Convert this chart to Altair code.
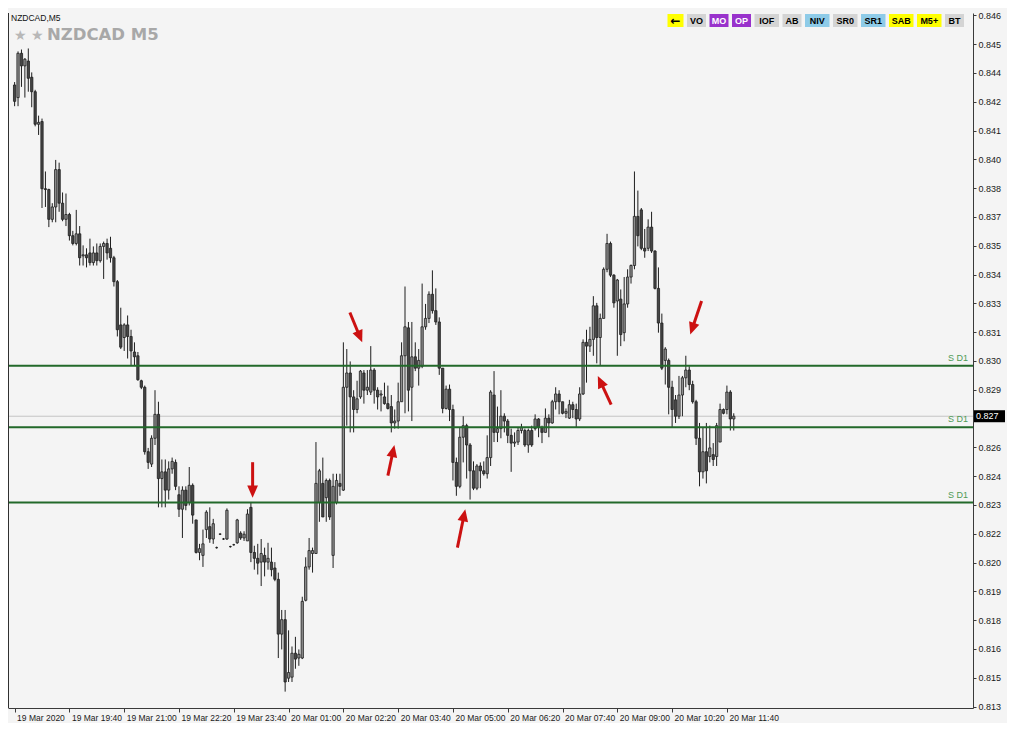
import math
import altair as alt
import pandas as pd

# ---------------- data ----------------
open_ = [0.84355,0.84295,0.84506,0.84446,0.84469,0.84392,0.84323,0.84168,0.84181,0.83861,
0.83857,0.83715,0.83774,0.83952,0.83792,0.83715,0.83738,0.83637,0.83600,0.83646,
0.83541,0.83546,0.83555,0.83509,0.83555,0.83518,0.83586,0.83600,0.83577,0.83532,
0.83418,0.83212,0.83152,0.83212,0.83157,0.83083,0.83065,0.82946,0.82915,0.82608,
0.82549,0.82672,0.82786,0.82480,0.82512,0.82425,0.82526,0.82557,0.82403,0.82334,
0.82425,0.82366,0.82448,0.82283,0.82128,0.82114,0.82237,0.82251,0.82192,0.82151,
0.82215,0.82192,0.82192,0.82156,0.82165,0.82174,0.82220,0.82197,0.82183,0.82343,
0.82128,0.82100,0.82082,0.82114,0.82082,0.82082,0.82054,0.82000,0.81739,0.81808,
0.81529,0.81534,0.81648,0.81625,0.81625,0.81900,0.82059,0.82123,0.82123,0.82366,
0.82457,0.82389,0.82471,0.82114,0.82366,0.82457,0.82425,0.82915,0.82983,0.82869,
0.82809,0.82869,0.82983,0.82901,0.82892,0.82997,0.82901,0.82878,0.82869,0.82837,
0.82823,0.82745,0.82754,0.82846,0.83065,0.83198,0.82915,0.83060,0.83006,0.83015,
0.83203,0.83243,0.83358,0.83280,0.83226,0.83006,0.82814,0.82906,0.82809,0.82557,
0.82443,0.82677,0.82732,0.82640,0.82517,0.82434,0.82540,0.82517,0.82503,0.82580,
0.82878,0.82700,0.82718,0.82777,0.82754,0.82686,0.82649,0.82654,0.82709,0.82709,
0.82640,0.82709,0.82718,0.82764,0.82723,0.82700,0.82768,0.82745,0.82846,0.82883,
0.82846,0.82791,0.82768,0.82832,0.82809,0.82764,0.82883,0.83129,0.83111,0.83143,
0.83303,0.83152,0.83243,0.83477,0.83600,0.83449,0.83326,0.83335,0.83175,0.83312,
0.83440,0.83495,0.83729,0.83760,0.83577,0.83577,0.83678,0.83564,0.83386,0.83221,
0.83043,0.83043,0.82915,0.82855,0.82777,0.82878,0.82960,0.82997,0.82928,0.82846,
0.82672,0.82512,0.82608,0.82585,0.82594,0.82585,0.82654,0.82809,0.82809,0.82892,
0.82764]
high = [0.84369,0.84515,0.84524,0.84483,0.84529,0.84415,0.84332,0.84209,0.84195,0.83943,
0.83861,0.83792,0.83998,0.83985,0.83843,0.83838,0.83746,0.83660,0.83760,0.83683,
0.83591,0.83577,0.83623,0.83586,0.83600,0.83600,0.83609,0.83623,0.83632,0.83541,
0.83426,0.83294,0.83220,0.83257,0.83189,0.83129,0.83083,0.82951,0.82923,0.82626,
0.82686,0.82901,0.82846,0.82571,0.82571,0.82562,0.82580,0.82571,0.82443,0.82443,
0.82443,0.82535,0.82457,0.82283,0.82169,0.82237,0.82329,0.82343,0.82288,0.82156,
0.82220,0.82197,0.82338,0.82160,0.82169,0.82288,0.82229,0.82229,0.82334,0.82366,
0.82160,0.82169,0.82192,0.82151,0.82174,0.82151,0.82082,0.82032,0.81854,0.81854,
0.81757,0.81680,0.81726,0.81666,0.81917,0.82105,0.82197,0.82151,0.82654,0.82526,
0.82580,0.82480,0.82480,0.82503,0.82503,0.82503,0.83129,0.83097,0.83038,0.82901,
0.82946,0.82997,0.82997,0.82997,0.83111,0.83006,0.82915,0.82901,0.82937,0.82923,
0.82878,0.82809,0.82937,0.83129,0.83395,0.83226,0.83226,0.83129,0.83097,0.83409,
0.83312,0.83372,0.83472,0.83386,0.83248,0.83006,0.82923,0.82928,0.82832,0.82580,
0.82723,0.82777,0.82741,0.82649,0.82562,0.82549,0.82557,0.82562,0.82686,0.82901,
0.82992,0.82823,0.82901,0.82791,0.82764,0.82718,0.82700,0.82723,0.82741,0.82718,
0.82718,0.82732,0.82786,0.82768,0.82732,0.82814,0.82786,0.82855,0.82915,0.82901,
0.82846,0.82814,0.82855,0.82846,0.82837,0.82915,0.83143,0.83189,0.83203,0.83349,
0.83317,0.83266,0.83486,0.83646,0.83609,0.83454,0.83431,0.83381,0.83440,0.83477,
0.83500,0.83943,0.83852,0.83769,0.83669,0.83715,0.83751,0.83568,0.83486,0.83266,
0.83106,0.83052,0.82946,0.82878,0.82969,0.82969,0.83065,0.83015,0.82946,0.82855,
0.82745,0.82723,0.82745,0.82732,0.82649,0.82745,0.82837,0.82814,0.82923,0.82901,
0.82791]
low = [0.84254,0.84254,0.84346,0.84295,0.84323,0.84249,0.84158,0.84117,0.83769,0.83774,
0.83678,0.83701,0.83701,0.83751,0.83706,0.83683,0.83614,0.83591,0.83591,0.83495,
0.83495,0.83486,0.83495,0.83495,0.83495,0.83509,0.83431,0.83523,0.83509,0.83395,
0.83157,0.83097,0.83088,0.83052,0.83020,0.83020,0.82946,0.82906,0.82594,0.82526,
0.82535,0.82640,0.82343,0.82343,0.82343,0.82380,0.82503,0.82425,0.82297,0.82197,
0.82329,0.82352,0.82265,0.82123,0.82091,0.82059,0.82197,0.82174,0.82169,0.82146,
0.82211,0.82188,0.82188,0.82151,0.82160,0.82169,0.82188,0.82183,0.82183,0.82082,
0.82046,0.82023,0.81968,0.82014,0.82046,0.82014,0.81991,0.81625,0.81666,0.81465,
0.81511,0.81511,0.81574,0.81588,0.81620,0.81895,0.82046,0.82032,0.82123,0.82274,
0.82297,0.82274,0.82283,0.82054,0.82357,0.82398,0.82421,0.82732,0.82700,0.82700,
0.82791,0.82860,0.82837,0.82878,0.82878,0.82837,0.82809,0.82800,0.82832,0.82809,
0.82700,0.82718,0.82718,0.82846,0.82791,0.82800,0.82754,0.82992,0.82923,0.83006,
0.83189,0.83221,0.83266,0.83212,0.82974,0.82791,0.82809,0.82754,0.82471,0.82398,
0.82434,0.82557,0.82480,0.82380,0.82425,0.82425,0.82434,0.82494,0.82480,0.82540,
0.82654,0.82654,0.82672,0.82700,0.82649,0.82512,0.82631,0.82640,0.82695,0.82631,
0.82603,0.82631,0.82709,0.82677,0.82649,0.82700,0.82677,0.82741,0.82809,0.82786,
0.82786,0.82768,0.82764,0.82768,0.82723,0.82754,0.82878,0.82937,0.83083,0.83065,
0.83029,0.83020,0.83243,0.83463,0.83440,0.83294,0.83065,0.83111,0.83134,0.83294,
0.83409,0.83477,0.83586,0.83568,0.83532,0.83564,0.83555,0.83381,0.83175,0.82997,
0.82928,0.82786,0.82723,0.82745,0.82764,0.82777,0.82915,0.82901,0.82837,0.82640,
0.82443,0.82480,0.82457,0.82557,0.82540,0.82540,0.82654,0.82786,0.82786,0.82709,
0.82709]
close = [0.84277,0.84506,0.84446,0.84478,0.84387,0.84323,0.84168,0.84177,0.83861,0.83857,
0.83715,0.83774,0.83952,0.83792,0.83715,0.83738,0.83637,0.83600,0.83646,0.83532,
0.83546,0.83532,0.83509,0.83555,0.83518,0.83586,0.83600,0.83555,0.83532,0.83418,
0.83189,0.83106,0.83212,0.83157,0.83088,0.83060,0.82951,0.82915,0.82608,0.82557,
0.82672,0.82786,0.82480,0.82512,0.82425,0.82526,0.82562,0.82443,0.82334,0.82425,
0.82352,0.82448,0.82306,0.82128,0.82146,0.82169,0.82320,0.82192,0.82265,0.82151,
0.82215,0.82192,0.82329,0.82156,0.82165,0.82283,0.82197,0.82215,0.82311,0.82128,
0.82100,0.82077,0.82123,0.82082,0.82100,0.82046,0.82000,0.81739,0.81808,0.81511,
0.81556,0.81648,0.81620,0.81643,0.81895,0.82059,0.82137,0.82137,0.82457,0.82517,
0.82297,0.82471,0.82297,0.82443,0.82471,0.82443,0.82915,0.82983,0.82869,0.82809,
0.82860,0.82992,0.82901,0.82915,0.82997,0.82901,0.82869,0.82883,0.82837,0.82814,
0.82745,0.82754,0.82846,0.83065,0.83203,0.82901,0.83060,0.83006,0.83043,0.83203,
0.83243,0.83358,0.83280,0.83226,0.83006,0.82814,0.82906,0.82809,0.82557,0.82443,
0.82677,0.82732,0.82640,0.82517,0.82434,0.82540,0.82517,0.82503,0.82580,0.82892,
0.82700,0.82718,0.82777,0.82754,0.82686,0.82649,0.82654,0.82709,0.82723,0.82640,
0.82709,0.82640,0.82764,0.82723,0.82700,0.82768,0.82745,0.82846,0.82883,0.82846,
0.82791,0.82800,0.82832,0.82809,0.82764,0.82883,0.83129,0.83111,0.83143,0.83303,
0.83152,0.83243,0.83477,0.83600,0.83449,0.83317,0.83426,0.83166,0.83312,0.83440,
0.83495,0.83729,0.83637,0.83577,0.83564,0.83678,0.83564,0.83386,0.83221,0.83006,
0.83097,0.82915,0.82809,0.82777,0.82878,0.82960,0.82997,0.82928,0.82846,0.82672,
0.82512,0.82608,0.82517,0.82626,0.82571,0.82732,0.82809,0.82791,0.82892,0.82764,
0.82777]

time_tick_bars = [0, 16, 32, 48, 64, 80, 96, 112, 128, 144, 160, 176, 192, 208]
time_tick_labels = ["19 Mar 2020", "19 Mar 19:40", "19 Mar 21:00", "19 Mar 22:20",
                    "19 Mar 23:40", "20 Mar 01:00", "20 Mar 02:20", "20 Mar 03:40",
                    "20 Mar 05:00", "20 Mar 06:20", "20 Mar 07:40", "20 Mar 09:00",
                    "20 Mar 10:20", "20 Mar 11:40"]
price_ticks = [0.84687, 0.84550, 0.84413, 0.84276, 0.84138, 0.84001, 0.83864, 0.83727,
               0.83590, 0.83452, 0.83315, 0.83178, 0.83041, 0.82904, 0.82766, 0.82629,
               0.82492, 0.82355, 0.82218, 0.82080, 0.81943, 0.81806, 0.81669, 0.81532,
               0.81394]
hidden_tick = 0.82766          # covered by the current-price box in the reference
sd1_levels = [0.83017, 0.82725, 0.82366]
sd1_label = "S D1"

arrow_tail_bar = [69.5, 97.9, 109.0, 129.3, 174.2, 200.6]
arrow_tail_price = [0.82558, 0.83271, 0.82494, 0.82151, 0.82832, 0.83326]
arrow_head_bar = [69.5, 101.5, 110.9, 131.6, 170.3, 197.3]
arrow_head_price = [0.82389, 0.83129, 0.82640, 0.82334, 0.82969, 0.83166]

buttons = ["\u2190", "VO", "MO", "OP", "IOF", "AB", "NIV", "SR0", "SR1", "SAB", "M5+", "BT"]

# ---------------- styles ----------------
W, H = 965, 695
PAD_TOP = 5
BG = "#f4f4f4"
RED = "#cc1111"
FONT = "Liberation Sans"
button_style = {
    "\u2190": ("#ffff00", "#000000"), "VO": ("#d4d4d4", "#000000"),
    "MO": ("#9932cc", "#ffffff"), "OP": ("#9932cc", "#ffffff"),
    "IOF": ("#d4d4d4", "#000000"), "AB": ("#d4d4d4", "#000000"),
    "NIV": ("#8ecbe8", "#000000"), "SR0": ("#d4d4d4", "#000000"),
    "SR1": ("#8ecbe8", "#000000"), "SAB": ("#ffff00", "#000000"),
    "M5+": ("#ffff00", "#000000"), "BT": ("#d4d4d4", "#000000"),
}

x_dom = [-0.47, 278.4]
y_dom = [0.81387, 0.84698]
xscale = alt.Scale(domain=x_dom, nice=False, zero=False)
yscale = alt.Scale(domain=y_dom, nice=False, zero=False)

label_arr = "[" + ",".join("'" + s + "'" for s in time_tick_labels) + "]"
x_axis = alt.Axis(values=time_tick_bars, labelExpr=label_arr + "[round(datum.value/16)]",
                  orient="bottom", title=None, grid=False, domainColor="#3a3a3a",
                  tickColor="#3a3a3a", tickSize=4, labelAlign="left", labelOffset=2,
                  labelPadding=1, labelFont=FONT, labelFontSize=8.5, labelColor="#1a1a1a",
                  labelFlush=False, labelOverlap=False)
y_axis = alt.Axis(values=price_ticks,
                  labelExpr="abs(datum.value-%.5f)<0.000001 ? '' : substring(format(datum.value,'.5f'),0,5)" % hidden_tick,
                  orient="right", title=None, grid=False, domainColor="#3a3a3a",
                  tickColor="#3a3a3a", tickSize=3, labelPadding=2, labelFont=FONT,
                  labelFontSize=9, labelColor="#1a1a1a", labelBaseline="middle",
                  labelFlush=False, labelOverlap=False)


def X(f):
    return alt.X(f, type="quantitative", scale=xscale, axis=x_axis)


def Y(f):
    return alt.Y(f, type="quantitative", scale=yscale, axis=y_axis)


cdf = pd.DataFrame({"bar": list(range(len(open_))), "open": open_, "high": high,
                    "low": low, "close": close})
cdf["dir"] = ["bull" if c >= o else "bear" for o, c in zip(open_, close)]

price_line = alt.Chart(pd.DataFrame({"p": [close[-1]]})).mark_rule(
    color="#c4c4c4", strokeWidth=1).encode(y=Y("p"), x=alt.value(0), x2=alt.value(W))

wicks = alt.Chart(cdf).mark_rule(color="#1e1e1e", strokeWidth=1).encode(
    x=X("bar"), y=Y("low"), y2=alt.Y2("high"))
bodies = alt.Chart(cdf).mark_bar(size=2.3, stroke="#1e1e1e", strokeWidth=0.8).encode(
    x=X("bar"), y=Y("open"), y2=alt.Y2("close"),
    color=alt.Color("dir:N", scale=alt.Scale(domain=["bull", "bear"],
                                             range=["#8e8e8e", "#464646"]), legend=None))

sd = pd.DataFrame({"level": sd1_levels, "label": [sd1_label] * len(sd1_levels)})
sd_lines = alt.Chart(sd).mark_rule(color="#22692a", strokeWidth=2).encode(
    y=Y("level"), x=alt.value(0), x2=alt.value(W))
sd_text = alt.Chart(sd).mark_text(align="right", baseline="bottom", dy=-3, fontSize=9,
                                  font=FONT, color="#4e9a55").encode(
    y=Y("level"), x=alt.value(W - 5), text="label:N")

# arrows (shaft stops inside the head)
ppb = W / (x_dom[1] - x_dom[0])
ppp = H / (y_dom[1] - y_dom[0])
rows = []
for tb, tp, hb, hp in zip(arrow_tail_bar, arrow_tail_price, arrow_head_bar, arrow_head_price):
    dx = (hb - tb) * ppb
    dy = -(hp - tp) * ppp
    L = math.hypot(dx, dy)
    f = max(0.0, 1 - 8.0 / L)
    ang = math.degrees(math.atan2(dx, -dy)) % 360
    rows.append({"tb": tb, "tp": tp, "sb": tb + (hb - tb) * f, "sp": tp + (hp - tp) * f,
                 "hb": hb, "hp": hp, "ang": ang})
adf = pd.DataFrame(rows)
shafts = alt.Chart(adf).mark_rule(color=RED, strokeWidth=3).encode(
    x=X("tb"), y=Y("tp"), x2=alt.X2("sb"), y2=alt.Y2("sp"))
heads = alt.Chart(adf).mark_point(shape="M0,0L0.55,1.25L-0.55,1.25Z", filled=True,
                                  size=380, color=RED, opacity=1, strokeWidth=0).encode(
    x=X("hb"), y=Y("hp"), angle=alt.Angle("ang:Q", scale=None))

# current price box on the axis
cur_label = "%.3f" % (math.floor(close[-1] * 1000) / 1000)
cur = pd.DataFrame({"p": [close[-1]], "t": [cur_label]})
cur_box = alt.Chart(cur).mark_tick(orient="horizontal", size=31, thickness=12,
                                   color="#000000", opacity=1).encode(
    y=Y("p"), x=alt.value(W + 16.5))
cur_txt = alt.Chart(cur).mark_text(align="left", baseline="middle", fontSize=9, font=FONT,
                                   color="#ffffff").encode(
    y=Y("p"), x=alt.value(W + 3), text="t:N")


# titles
def txt_layer(t, x, y, **kw):
    return alt.Chart(pd.DataFrame({"t": [t]})).mark_text(**kw).encode(
        x=alt.value(x), y=alt.value(y), text="t:N")


title_small = txt_layer("NZDCAD,M5", 3, 1, align="left", baseline="top", fontSize=8.5,
                        font=FONT, color="#111111")
stars = txt_layer("\u2605 \u2605", 6, 27, align="left", baseline="alphabetic", fontSize=14,
                  font="DejaVu Sans", color="#b8b8b8")
title_big = txt_layer("NZDCAD M5", 39, 27, align="left", baseline="alphabetic", fontSize=16.5,
                      font="DejaVu Sans", fontWeight="bold", color="#a8a8a8")

# button bar (laid out from label lengths, right aligned)
btn_layers = []
widths = [max(16.0, 8 + 5.5 * len(b)) for b in buttons]
gap = 3.5
xr = W - 9
xs = []
for w in reversed(widths):
    xs.append((xr - w, xr))
    xr = xr - w - gap
xs = list(reversed(xs))
for b, (x0, x1) in zip(buttons, xs):
    fill, tc = button_style[b]
    is_arrow = b == "\u2190"
    btn_layers.append(alt.Chart(pd.DataFrame({"t": [b]})).mark_rect(color=fill).encode(
        x=alt.value(x0), x2=alt.value(x1), y=alt.value(1), y2=alt.value(14)))
    btn_layers.append(alt.Chart(pd.DataFrame({"t": [b]})).mark_text(
        align="center", baseline="middle", fontSize=12 if is_arrow else 9,
        font="DejaVu Sans" if is_arrow else FONT, fontWeight="bold",
        color=tc).encode(x=alt.value((x0 + x1) / 2), y=alt.value(7.8), text="t:N"))

left_border = alt.Chart(pd.DataFrame({"t": [0]})).mark_rule(color="#303030").encode(
    x=alt.value(0.5), y=alt.value(0), y2=alt.value(H))

chart = alt.layer(price_line, wicks, bodies, sd_lines, sd_text, shafts, heads,
                  cur_box, cur_txt, title_small, stars, title_big, *btn_layers,
                  left_border).properties(
    width=W, height=H,
    autosize=alt.AutoSizeParams(type="none"),
    padding={"left": 0, "top": PAD_TOP, "right": 34, "bottom": 15},
    background=BG,
).configure_view(stroke=None, fill=BG)

chart.save("out.html", embed_options={"renderer": "svg", "actions": False})
